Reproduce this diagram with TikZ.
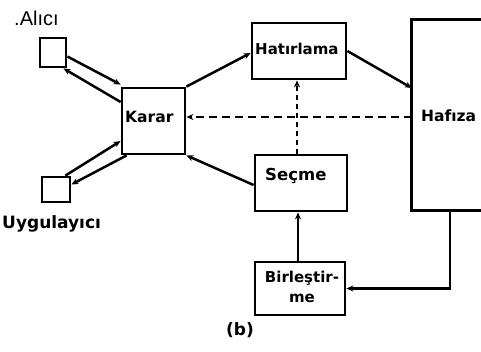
\documentclass[tikz,border=0pt]{standalone}
\usepackage{fontspec}
\setmainfont{DejaVu Sans}
\newfontfamily\arialfont{Liberation Sans}
\usetikzlibrary{arrows.meta,calc}
\begin{document}
\begin{tikzpicture}[x=1pt,y=-1pt,
  box/.style={draw,line width=2.8pt,inner sep=0pt,minimum width=#1},
  conn/.style={line width=2.5pt,-{Stealth[length=7pt,width=6pt]}},
  dashconn/.style={conn,dash pattern=on 8pt off 5pt},
  dotconn/.style={conn,dash pattern=on 5pt off 4pt},
  lab/.style={font=\bfseries\fontsize{15}{16}\selectfont,inner sep=0pt}
]
\useasboundingbox (0,0) rectangle (481,351);
% boxes
\node[box=26pt,minimum height=29pt] (alici) at (53,52.5) {};
\node[box=63pt,minimum height=66pt] (karar) at (153.5,121) {};
\node[box=28pt,minimum height=25pt] (uyg) at (56,189.5) {};
\node[box=94pt,minimum height=56pt] (hat) at (299,51) {};
\node[box=92pt,minimum height=56pt] (secme) at (301,183) {};
\node[box=90pt,minimum height=53pt] (birl) at (300,288.5) {};
\node[inner sep=0pt,minimum width=100pt,minimum height=190pt] (hafiza) at (462,115) {};
\draw[line width=2.8pt] (hafiza.north east) -- (hafiza.north west) -- (hafiza.south west) -- (hafiza.south east);
% labels
\node[font=\arialfont\fontsize{20}{21}\selectfont,anchor=west,inner sep=0pt] (lalici) at (14,18) {.Alıcı};
\node[font=\bfseries\fontsize{17}{18}\selectfont,anchor=west,inner sep=0pt] (luyg) at (2,224) {Uygulayıcı};
\node[lab,font=\bfseries\fontsize{15.5}{16}\selectfont,anchor=west] (lkarar) at (125,117) {Karar};
\node[lab,font=\bfseries\fontsize{15}{16}\selectfont,anchor=west] (lhat) at (255,49) {Hatırlama};
\node[lab,font=\bfseries\fontsize{16.5}{17}\selectfont,anchor=west] (lsecme) at (265,176) {Seçme};
\node[lab,font=\bfseries\fontsize{15}{20}\selectfont,align=center] (lbirl) at (302,287) {Birleştir-\\me};
\node[lab,font=\bfseries\fontsize{15.5}{16}\selectfont,anchor=west] (lhaf) at (421,116) {Hafıza};
\node[font=\bfseries\fontsize{17}{18}\selectfont,inner sep=0pt] (lb) at (240,330) {(b)};
% connectors
\draw[conn] ($(alici.east)+(0,4)$) -- ($(karar.north west)+(0,-2)$);
\draw[conn] ($(karar.west)+(0,-19)$) -- ($(alici.south east)+(-4,0)$);
\draw[conn] ($(uyg.north east)+(-6,0)$) -- ($(karar.west)+(0,20)$);
\draw[conn] ($(karar.south west)+(6,0)$) -- ($(uyg.east)+(0,-5)$);
\draw[conn] (karar.north east) -- ($(hat.west)+(0,2)$);
\draw[conn] (hat.east) -- ($(hafiza.west)+(0,-27)$);
\draw[conn] ($(secme.west)+(0,2)$) -- (karar.south east);
\coordinate (kd) at ($(karar.east)+(0,-4)$);
\draw[dashconn] (hafiza.west |- kd) -- (kd);
\draw[dotconn] ($(secme.north)+(-4,0)$) -- ($(hat.south)+(-2,0)$);
\draw[conn] ($(birl.north)+(-2,0)$) -- ($(secme.south)+(-3,0)$);
\draw[conn] ($(hafiza.south)+(-12,0)$) |- (birl.east);
\end{tikzpicture}
\end{document}
